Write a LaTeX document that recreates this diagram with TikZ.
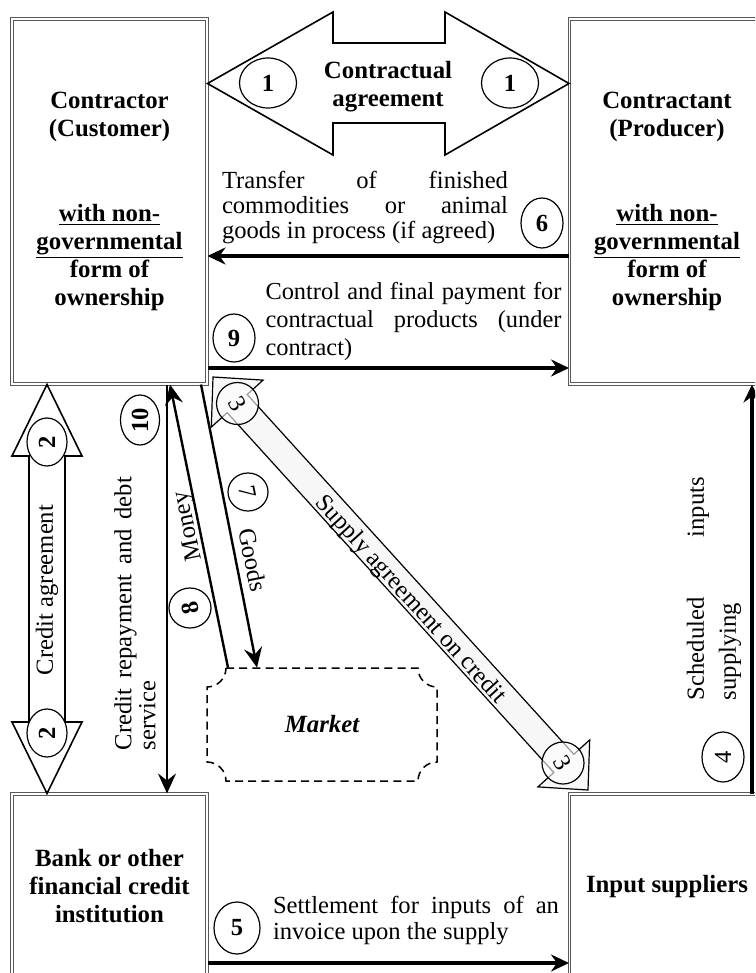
\documentclass[tikz,border=0pt]{standalone}
\usepackage{fontspec}
\setmainfont{Liberation Serif}
\usepackage{graphicx}
\usetikzlibrary{arrows.meta,shapes.geometric}
\setlength{\parindent}{0pt}

\tikzset{
  box/.style={draw=black!65, line width=0.5pt, double=white, double distance=0.6pt,
    inner sep=0pt, minimum width=97.5pt, align=center, fill=white,
    font=\fontsize{12.4}{14}\selectfont\bfseries},
  flow/.style={line width=1.8pt, -{Stealth[length=9pt,width=8.5pt,inset=3pt]}},
  thinflow/.style={line width=1.2pt, -{Stealth[length=10pt,width=9pt,inset=3.5pt]}},
  num/.style={ellipse, draw, line width=0.6pt, fill=white, inner sep=0pt,
    font=\fontsize{12.3}{14}\selectfont\bfseries},
  numlight/.style={num, font=\fontsize{12.3}{14}\selectfont},
  para/.style={text width=#1, inner sep=0pt, align=justify,
    execute at begin node={\tolerance=10000\hyphenpenalty=10000\exhyphenpenalty=10000}},
  band/.style={draw, line width=0.8pt, fill=white, line join=miter},
}

\begin{document}
\begin{tikzpicture}[x=0.5pt, y=-0.5pt, font=\fontsize{12.3}{14}\selectfont]
\useasboundingbox (0,0) rectangle (755,973);
\clip (0,0) rectangle (755,973);

% the four parties
\node[box, minimum height=182.5pt] (cust) at (109.5,201.5)
  {Contractor\\(Customer)\\[28.5pt]\underline{with non-}\\\underline{governmental}\\form of\\ownership};
\node[box, minimum height=182.5pt] (prod) at (667,201.5)
  {Contractant\\(Producer)\\[28.5pt]\underline{with non-}\\\underline{governmental}\\form of\\ownership};
\node[box, minimum height=92.5pt] (bank) at (109.5,886.5)
  {Bank or other\\financial credit\\institution};
\node[box, minimum height=92.5pt] (input) at (667,886.5) {Input suppliers};

% 1: contractual agreement (double block arrow)
\draw[band] (cust.east |- 0,83.5) -- (333,12) -- (333,43) -- (445,43) -- (445,12)
  -- (prod.west |- 0,83.5) -- (445,155) -- (445,123) -- (333,123) -- (333,155) -- cycle;
\node[font=\fontsize{12.4}{14}\selectfont\bfseries, align=center] (agree) at (388,87)
  {Contractual\\agreement};
\node[num, minimum width=28.5pt, minimum height=25pt] (n1a) at (268,83) {1};
\node[num, minimum width=28.5pt, minimum height=25pt] (n1b) at (510,83) {1};

% 6: transfer of goods
\draw[flow] (prod.west |- 0,256) -- (cust.east |- 0,256);
\node[para=143pt, font=\fontsize{12.3}{12.5}\selectfont] (t6) at (365,207)
  {Transfer of finished\linebreak commodities or animal\linebreak goods in process (if agreed)};
\node[num, minimum width=21pt, minimum height=25pt] (n6) at (542,223) {6};

% 9: final payment
\draw[flow] (cust.east |- 0,368) -- (prod.west |- 0,368);
\node[para=148pt, font=\fontsize{12.2}{14}\selectfont] (t9) at (413.5,322)
  {Control and final payment for\linebreak contractual products (under\linebreak contract)};
\node[num, minimum width=21pt, minimum height=24pt] (n9) at (234,338) {9};

% 2: credit agreement (vertical double block arrow)
\draw[band] (cust.south -| 47,0) -- (82,456) -- (65,456) -- (65,722) -- (82,722)
  -- (bank.north -| 47,0) -- (12,722) -- (29,722) -- (29,456) -- (12,456) -- cycle;
\node[rotate=90] (tca) at (47,590) {Credit agreement};
\node[num, minimum width=20pt, minimum height=24pt] (n2a) at (47,442) {\rotatebox{90}{2}};
\node[num, minimum width=20pt, minimum height=24pt] (n2b) at (47,733) {\rotatebox{90}{2}};

% 10: credit repayment
\draw[thinflow] (cust.south -| 167,0) -- (bank.north -| 167,0);
\node[para=136.5pt, rotate=90, font=\fontsize{12.3}{12}\selectfont] (t10) at (135,613.5)
  {Credit repayment and debt\linebreak service};
\node[num, minimum width=19.5pt, minimum height=25pt] (n10) at (140,420) {\rotatebox{90}{10}};

% market
\node[minimum width=115pt, minimum height=56.5pt, font=\fontsize{12.4}{14}\selectfont\bfseries\itshape]
  (market) at (322,724.5) {Market};
\draw[line width=0.75pt, dash pattern=on 4pt off 2.6pt]
  (226,668) -- (418,668) .. controls (418,678.5) and (426.5,687) .. (437,687)
  -- (437,762) .. controls (426.5,762) and (418,770.5) .. (418,781)
  -- (226,781) .. controls (226,770.5) and (217.5,762) .. (207,762)
  -- (207,687) .. controls (217.5,687) and (226,678.5) .. (226,668) -- cycle;

% 8: money, 7: goods
\draw[thinflow] (market.north -| 228,0) -- (cust.south -| 170,0);
\node[rotate=101.6] (tmoney) at (189,526) {Money};
\node[num, minimum width=21pt, minimum height=20pt] (n8) at (190,608) {\rotatebox{101.6}{8}};
\draw[thinflow] (cust.south -| 201,0) -- (market.north -| 257,0);
\node[rotate=-78.6] (tgoods) at (253,560) {Goods};
\node[numlight, minimum width=20pt, minimum height=19pt] (n7) at (248,492) {\rotatebox{-78.6}{7}};

% 3: supply agreement on credit (diagonal double block arrow)
\draw[line width=0.6pt, fill=gray!6, line join=miter]
  (213,377) -- (263.1,380.1) -- (247.2,394.5) -- (573.8,754.3) -- (589.7,739.9)
  -- (588,790) -- (537.9,786.9) -- (553.8,772.5) -- (227.2,412.7) -- (211.3,427.1) -- cycle;
\node[rotate=-47.8] (tsup) at (410,600) {Supply agreement on credit};
\node[numlight, circle, minimum size=21pt, fill opacity=0.6, text opacity=1] (n3a) at (237.5,403.5) {\rotatebox{-60}{3}};
\node[numlight, circle, minimum size=21pt, fill opacity=0.6, text opacity=1] (n3b) at (563,763) {\rotatebox{-60}{3}};

% 4: scheduled supplying of inputs
\draw[flow] (input.north -| 752,0) -- (prod.south -| 752,0);
\node[para=111.5pt, rotate=90, font=\fontsize{12.3}{16}\selectfont] (t4) at (714,588.5)
  {Scheduled inputs\linebreak supplying};
\node[numlight, minimum width=21pt, minimum height=25pt] (n4) at (723,757) {\rotatebox{90}{4}};

% 5: settlement for inputs
\draw[flow] (bank.east |- 0,963) -- (input.west |- 0,963);
\node[para=143pt, font=\fontsize{12.3}{13}\selectfont] (t5) at (416,920)
  {Settlement for inputs of an\linebreak invoice upon the supply};
\node[num, minimum width=23pt, minimum height=26pt] (n5) at (237,928) {5};
\end{tikzpicture}
\end{document}
